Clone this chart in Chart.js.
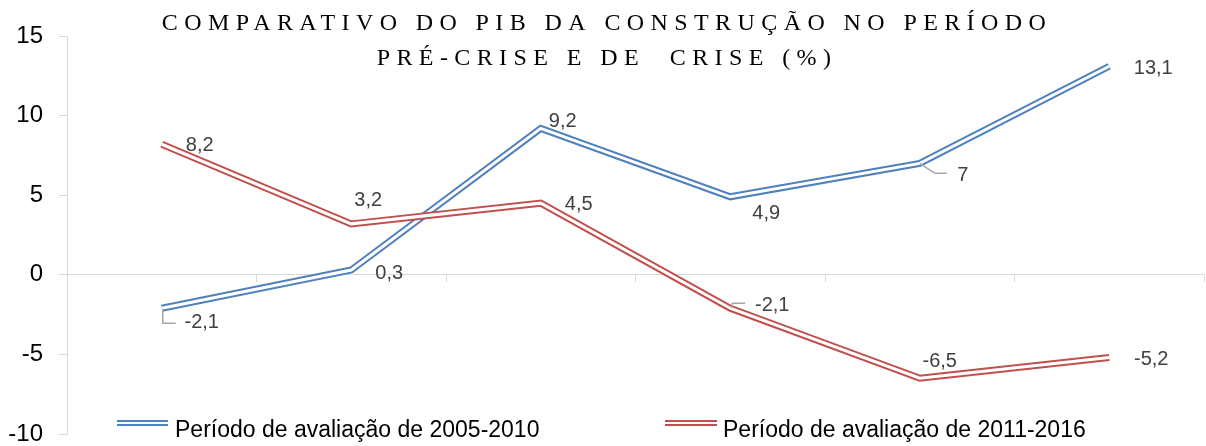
<!DOCTYPE html>
<html><head><meta charset="utf-8">
<script src="https://cdn.jsdelivr.net/npm/chart.js@4"></script>
<style>html,body{margin:0;padding:0;background:#fff;overflow:hidden}</style>
</head><body>
<canvas id="c" width="1206" height="446" style="width:1206px;height:446px;display:block"></canvas>
<script>
// ---- data ----
const categories = ['1', '2', '3', '4', '5', '6'];
const seriesNames = ['Período de avaliação de 2005-2010', 'Período de avaliação de 2011-2016'];
const period2005_2010 = [-2.1, 0.3, 9.2, 4.9, 7, 13.1];
const period2011_2016 = [8.2, 3.2, 4.5, -2.1, -6.5, -5.2];
const yTickValues = [-10, -5, 0, 5, 10, 15];
const titleLines = ['COMPARATIVO DO PIB DA CONSTRUÇÃO NO PERÍODO', 'PRÉ-CRISE E DE  CRISE (%)'];

// ---- styles ----
const BLUE = '#4f81bd', RED = '#c0504d', AXIS = '#d9d9d9', LEADER = '#a6a6a6';
const SANS = '"Liberation Sans", Arial, sans-serif';
// label offsets relative to each point [dx, dy], and optional leader polyline
const labelOffsets = [
  [[40, 14], [38, 3], [22, -7], [36, 17], [43, 12], [44, 2]],
  [[38, 1], [17, -23], [38, 1], [42, -3], [20, -17], [42, 2]]
];
const leaders = [
  {0: [[1, 1], [1, 15], [14, 15]], 4: [[0, 0], [15, 10], [27, 10]]},
  {3: [[2, 0], [2, -5], [15, -5]]}
];
const fmt = v => String(v).replace('.', ',');

const lineBase = {pointRadius: 0, pointHoverRadius: 0, tension: 0, fill: false,
  borderJoinStyle: 'miter', borderCapStyle: 'butt'};

const titlePlugin = {
  id: 'titleLS',
  afterDraw(chart) {
    const ctx = chart.ctx;
    ctx.save();
    ctx.font = '24px "Liberation Serif", "Times New Roman", serif';
    ctx.fillStyle = '#000';
    ctx.textBaseline = 'alphabetic';
    ctx.textAlign = 'left';
    ctx.letterSpacing = '6.4px';
    const baselines = [30, 65];
    titleLines.forEach((t, i) => {
      const w = ctx.measureText(t).width;
      ctx.fillText(t, 607 - w / 2, baselines[i]);
    });
    ctx.restore();
  }
};

const labelPlugin = {
  id: 'dataLabels',
  afterDatasetsDraw(chart) {
    const ctx = chart.ctx;
    ctx.save();
    [0, 2].forEach((di, s) => {
      const meta = chart.getDatasetMeta(di);
      const data = chart.data.datasets[di].data;
      meta.data.forEach((pt, i) => {
        const lead = leaders[s][i];
        if (lead) {
          ctx.strokeStyle = LEADER; ctx.lineWidth = 1.5;
          ctx.beginPath();
          lead.forEach(([dx, dy], k) => k ? ctx.lineTo(pt.x + dx, pt.y + dy) : ctx.moveTo(pt.x + dx, pt.y + dy));
          ctx.stroke();
        }
        const [dx, dy] = labelOffsets[s][i];
        ctx.font = '20px ' + SANS;
        ctx.fillStyle = '#404040';
        ctx.textAlign = 'center';
        ctx.textBaseline = 'middle';
        ctx.fillText(fmt(data[i]), pt.x + dx, pt.y + dy);
      });
    });
    ctx.restore();
  }
};

const legendPlugin = {
  id: 'legendCustom',
  afterDraw(chart) {
    const ctx = chart.ctx;
    ctx.save();
    const items = [
      {x: 117, w: 51, tx: 175, color: BLUE, text: seriesNames[0]},
      {x: 665, w: 52, tx: 723, color: RED, text: seriesNames[1]}
    ];
    items.forEach(it => {
      ctx.strokeStyle = it.color; ctx.lineWidth = 2;
      ctx.beginPath();
      ctx.moveTo(it.x, 421); ctx.lineTo(it.x + it.w, 421);
      ctx.moveTo(it.x, 425); ctx.lineTo(it.x + it.w, 425);
      ctx.stroke();
      ctx.font = '23px ' + SANS;
      ctx.fillStyle = '#000';
      ctx.textAlign = 'left';
      ctx.textBaseline = 'alphabetic';
      ctx.fillText(it.text, it.tx, 437);
    });
    ctx.restore();
  }
};

new Chart(document.getElementById('c'), {
  type: 'line',
  data: {
    labels: categories,
    datasets: [
      Object.assign({label: seriesNames[0], data: period2005_2010, borderColor: BLUE, borderWidth: 7, order: 4}, lineBase),
      Object.assign({label: 'inner0', data: period2005_2010, borderColor: '#ffffff', borderWidth: 3, order: 3}, lineBase),
      Object.assign({label: seriesNames[1], data: period2011_2016, borderColor: RED, borderWidth: 7, order: 2}, lineBase),
      Object.assign({label: 'inner1', data: period2011_2016, borderColor: '#ffffff', borderWidth: 3, order: 1}, lineBase)
    ]
  },
  options: {
    responsive: false,
    animation: false,
    devicePixelRatio: 1,
    layout: {padding: {top: 36, bottom: 12, left: 0, right: 2}},
    plugins: {legend: {display: false}, title: {display: false}, tooltip: {enabled: false}},
    scales: {
      x: {
        type: 'category',
        position: {y: 0},
        offset: true,
        grid: {offset: true, drawOnChartArea: false, drawTicks: true, tickLength: 7, color: AXIS, lineWidth: 1},
        border: {display: true, color: AXIS, width: 1},
        ticks: {display: false}
      },
      y: {
        min: yTickValues[0],
        max: yTickValues[yTickValues.length - 1],
        afterBuildTicks: s => { s.ticks = yTickValues.map(v => ({value: v})); },
        afterFit: s => { s.width = 67; s.paddingTop = 0; s.paddingBottom = 0; },
        grid: {drawOnChartArea: false, drawTicks: true, tickLength: 8, color: AXIS},
        border: {display: true, color: AXIS, width: 1},
        ticks: {color: '#000', padding: 16, font: {family: SANS, size: 24}, callback: v => v}
      }
    }
  },
  plugins: [titlePlugin, labelPlugin, legendPlugin]
});
</script>
</body></html>
